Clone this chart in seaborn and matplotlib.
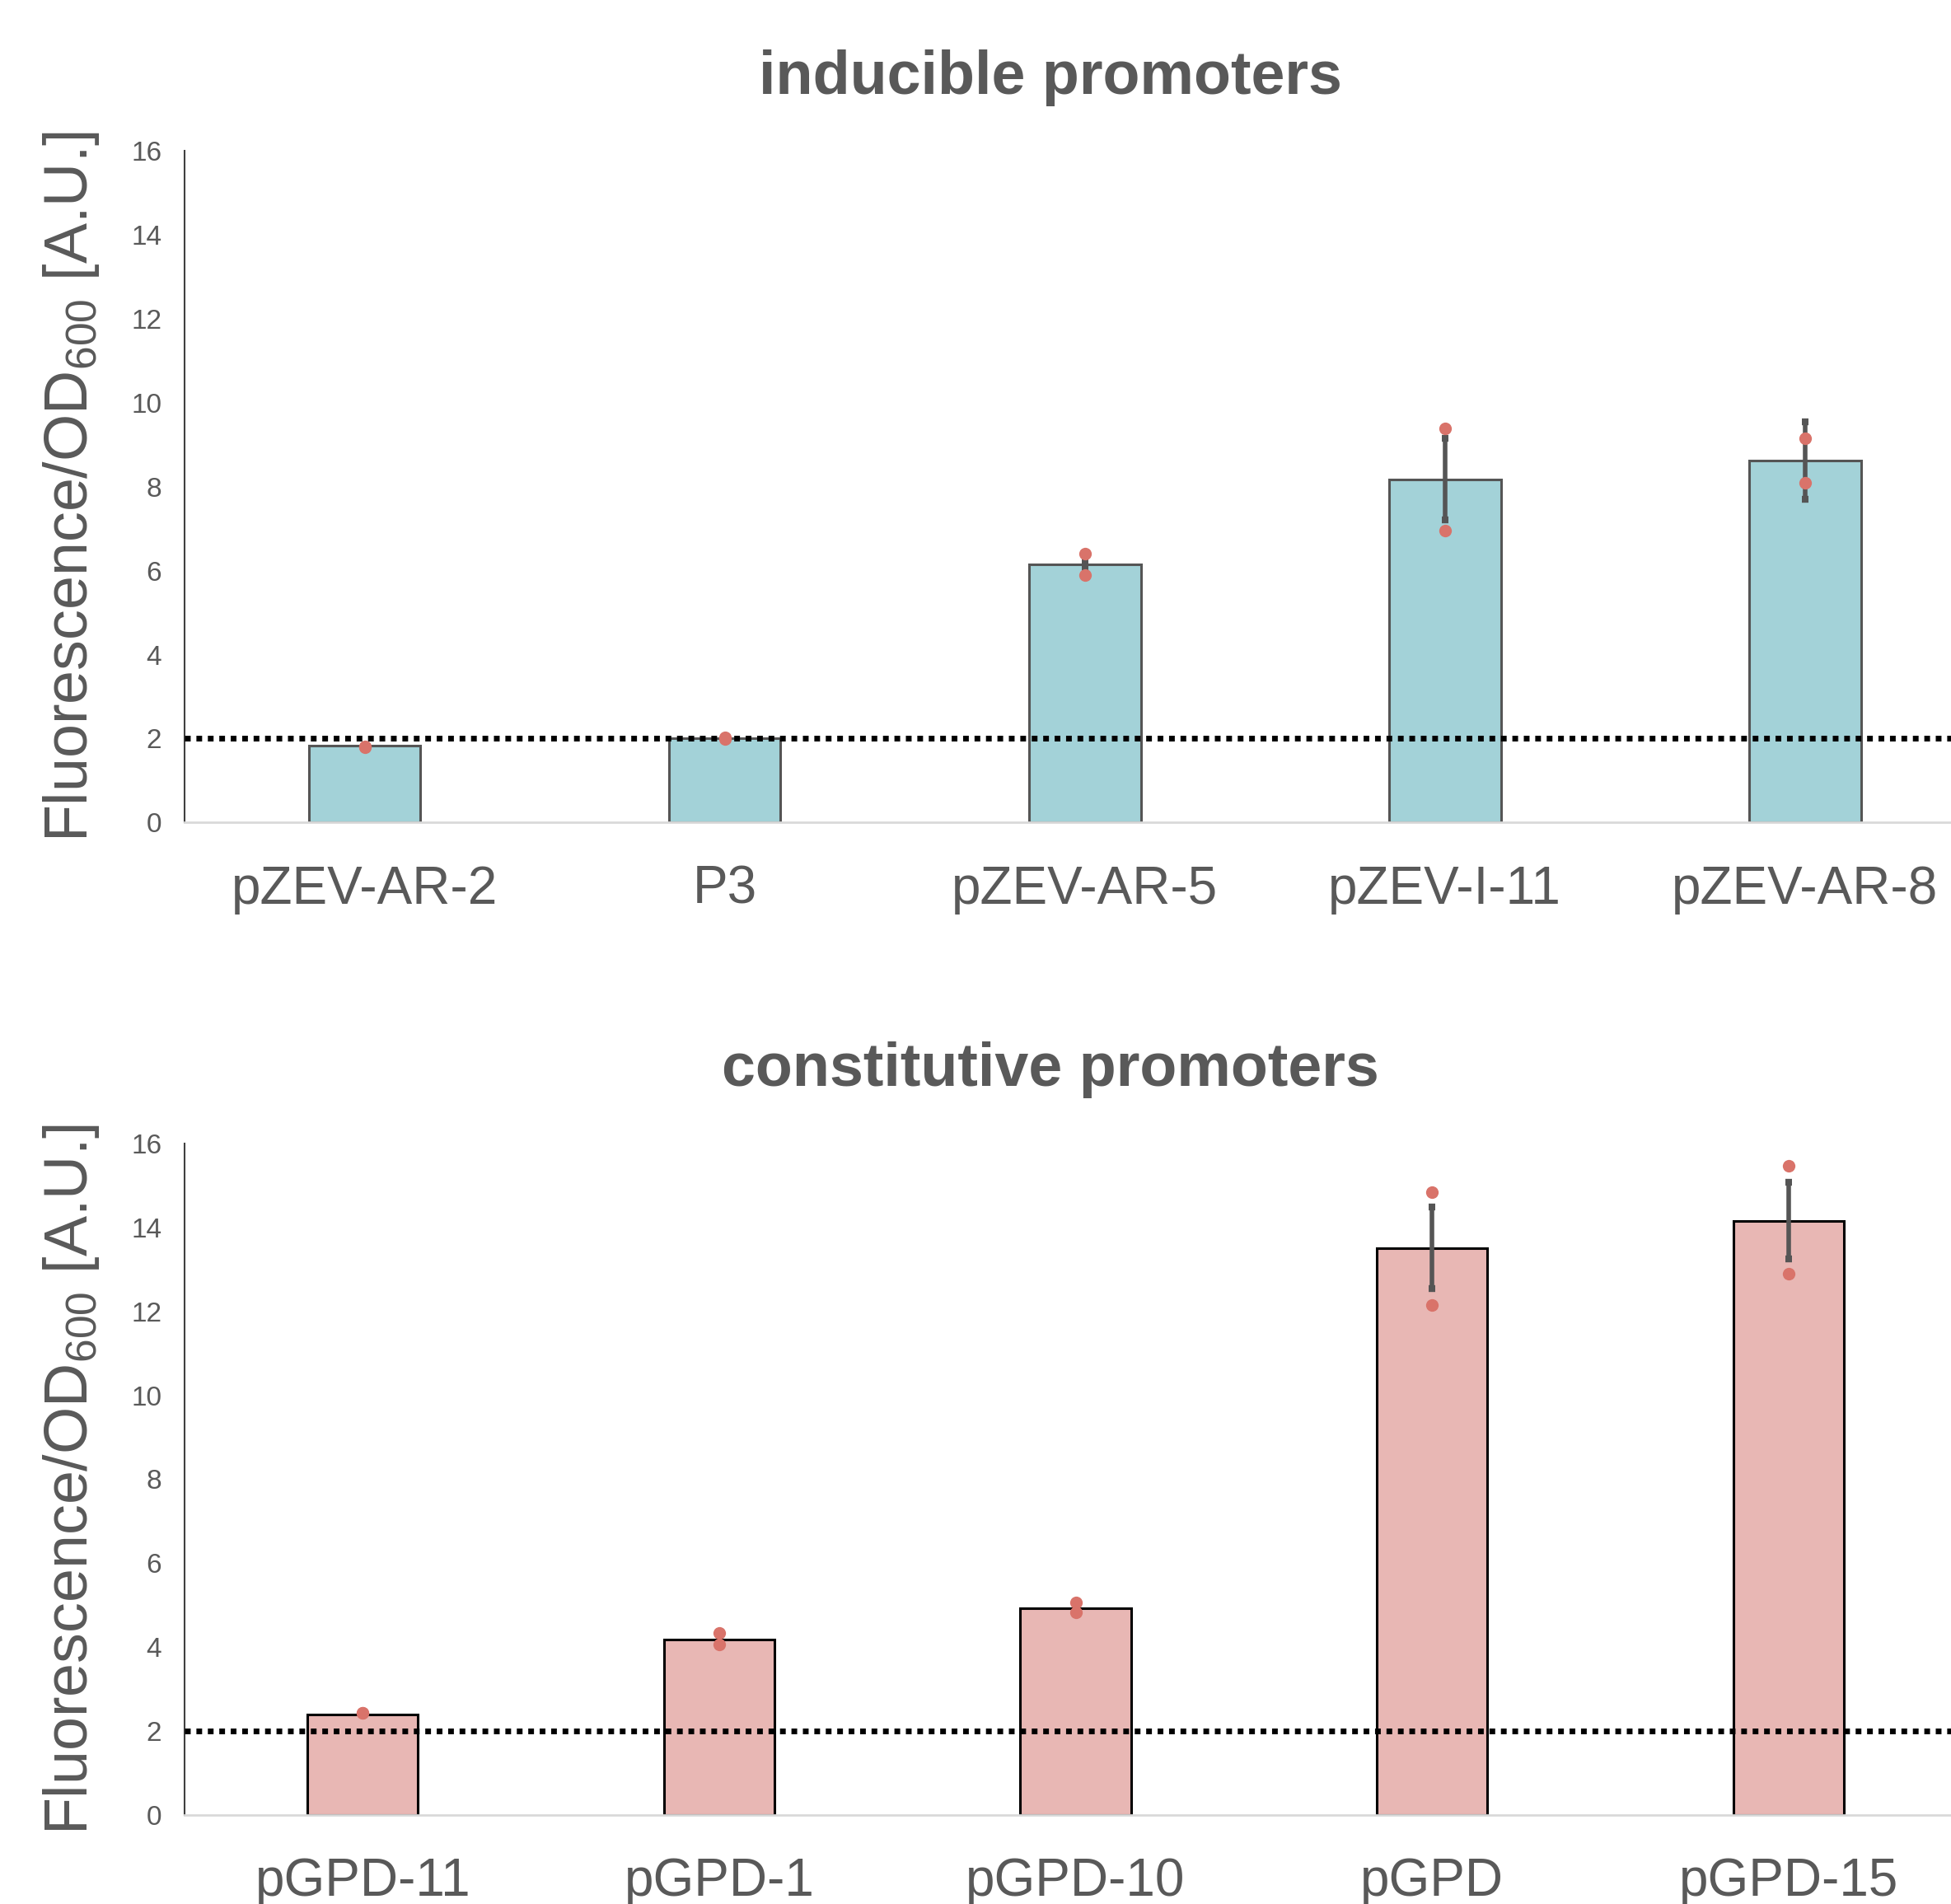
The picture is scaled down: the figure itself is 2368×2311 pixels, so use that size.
import matplotlib
matplotlib.use("Agg")
import matplotlib.pyplot as plt
import seaborn as sns
import pandas as pd
import numpy as np

# ---- data ----
ind_labels = ["pZEV-AR-2", "P3", "pZEV-AR-5", "pZEV-I-11", "pZEV-AR-8"]
ind_means = [1.83, 2.01, 6.15, 8.18, 8.62]
ind_err = [0.0, 0.0, 0.08, 0.97, 0.92]
ind_rep1 = [1.80, 1.99, 6.40, 9.39, 9.16]
ind_rep2 = [1.82, 2.03, 5.90, 6.96, 8.09]

con_labels = ["pGPD-11", "pGPD-1", "pGPD-10", "pGPD", "pGPD-15"]
con_means = [2.40, 4.18, 4.92, 13.51, 14.16]
con_err = [0.0, 0.0, 0.0, 0.97, 0.92]
con_rep1 = [2.43, 4.33, 5.07, 14.84, 15.47]
con_rep2 = [2.43, 4.06, 4.83, 12.15, 12.89]

threshold = 2.0
yticks = [0, 2, 4, 6, 8, 10, 12, 14, 16]

sns.set_theme(style="white")
plt.rcParams['font.family'] = ['Liberation Sans', 'DejaVu Sans']
plt.rcParams['mathtext.fontset'] = 'custom'
plt.rcParams['mathtext.rm'] = 'Liberation Sans'
plt.rcParams['mathtext.it'] = 'Liberation Sans'

TXT = "#595959"
fig = plt.figure(figsize=(23.68, 23.11), dpi=100)

panels = [
    (ind_labels, ind_means, ind_err, ind_rep1, ind_rep2, "#A3D2D8", "#555555",
     "inducible promoters", [0.0946, 0.568, 0.9054, 0.3528], 4.405),
    (con_labels, con_means, con_err, con_rep1, con_rep2, "#E8B7B4", "#000000",
     "constitutive promoters", [0.0946, 0.0467, 0.9054, 0.3528], 4.456),
]

for labels, means, err, r1, r2, fc, ec, title, rect, xr in panels:
    ax = fig.add_axes(rect)
    bars = pd.DataFrame({"name": labels, "value": means})
    reps = pd.DataFrame({"name": labels * 2, "value": r1 + r2})
    sns.barplot(data=bars, x="name", y="value", order=labels, color=fc,
                saturation=1, width=0.31, edgecolor=ec, linewidth=2.2,
                errorbar=None, ax=ax, zorder=2)
    xs = np.arange(len(labels))
    e = np.array(err)
    mask = e > 0
    ax.errorbar(xs[mask], np.array(means)[mask], yerr=e[mask], fmt="none",
                ecolor="#555555", elinewidth=4, capsize=3, capthick=6, zorder=4)
    sns.stripplot(data=reps, x="name", y="value", order=labels, jitter=False,
                  color="#D9736A", size=11, ax=ax, zorder=5)
    ax.axhline(threshold, color="black", linestyle=(0, (1, 1)), linewidth=5, zorder=3)
    ax.set_ylim(0, 16)
    ax.set_xlim(-0.5, xr)
    ax.set_yticks(yticks)
    ax.set_yticklabels([str(t) for t in yticks], fontsize=24, color=TXT)
    ax.tick_params(axis="y", length=0, pad=20)
    ax.tick_params(axis="x", length=0, pad=37, labelsize=46, labelcolor=TXT)
    ax.set_xlabel("")
    ax.set_ylabel(r"Fluorescence/OD$_{600}$ [A.U.]", fontsize=53, color=TXT, labelpad=26)
    ax.set_title(title, fontsize=53, fontweight="bold", color=TXT, pad=50, x=0.49)
    for s in ["top", "right"]:
        ax.spines[s].set_visible(False)
    ax.spines["left"].set_color("#404040")
    ax.spines["left"].set_linewidth(1.5)
    ax.spines["bottom"].set_color("#D9D9D9")
    ax.spines["bottom"].set_linewidth(2)

fig.savefig("out.png", dpi=100, facecolor="white")
